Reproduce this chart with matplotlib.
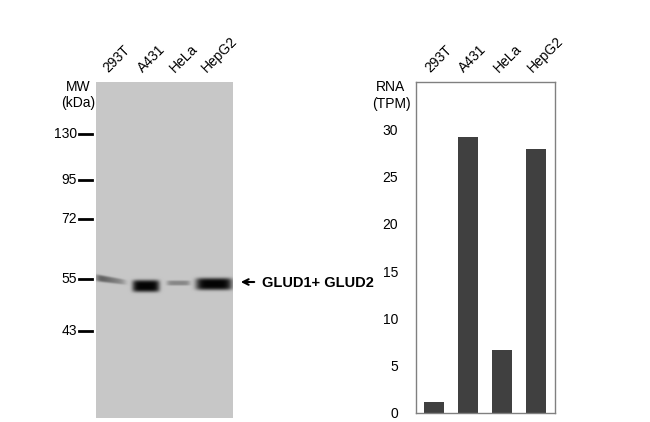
import numpy as np
import matplotlib.pyplot as plt
import matplotlib.transforms as mtransforms

plt.rcParams['font.family'] = ['Liberation Sans', 'DejaVu Sans']

# data
lanes = ['293T', 'A431', 'HeLa', 'HepG2']
band_darkness = [0.6, 0.98, 0.32, 0.98]
rna_tpm = [1.2, 29.2, 6.7, 27.9]
mw_labels = ['130', '95', '72', '55', '43']
rna_ticks = [0, 5, 10, 15, 20, 25, 30]

# blot layout (pixel units inside the blot panel)
W, H = 137, 336
lane_x = [15, 50, 82.5, 118]
label_x = [12, 47, 79, 111]
band_halfw = [15, 13.5, 11.5, 18]
band_y = [198, 204, 201, 202]
band_halfh = [3.5, 6.0, 2.5, 6.0]
band_tilt = [0.15, 0, 0, 0]
band_taper = [0.6, 0, 0, 0]
mw_y = [52, 98, 137, 197, 249]

fig = plt.figure(figsize=(6.5, 4.22), dpi=100)

# western blot
ax = fig.add_axes([96 / 650, 4 / 422, W / 650, H / 422])
xx, yy = np.meshgrid(np.arange(W * 2) / 2 + 0.25, np.arange(H * 2) / 2 + 0.25)
bg = 0.78
img = np.full(xx.shape, bg)
for cx, hw, cy, hh, tilt, taper, d in zip(lane_x, band_halfw, band_y, band_halfh,
                                          band_tilt, band_taper, band_darkness):
    dx = (xx - cx) / hw
    fade = np.clip(1 - taper * (np.clip(dx, -1, 1) + 1) / 2, 0, 1)
    dy = (yy - (cy + tilt * (xx - cx))) / (hh * (0.6 + 0.4 * fade))
    prof = np.exp(-dx ** 6) * np.exp(-dy ** 4) * fade
    img -= bg * d * prof
img = np.clip(img, 0, 1)
ax.imshow(img, cmap='gray', vmin=0, vmax=1, extent=(0, W, H, 0),
          aspect='auto', interpolation='bilinear')
ax.set_xlim(0, W)
ax.set_ylim(H, 0)
ax.axis('off')

for lab, y in zip(mw_labels, mw_y):
    ax.plot([-17, -4], [y, y], color='black', lw=2, clip_on=False)
    ax.text(-19, y, lab, ha='right', va='center', fontsize=10)
ax.text(-18, 13, 'MW\n(kDa)', ha='center', va='center', fontsize=10,
        multialignment='center')

for name, x in zip(lanes, label_x):
    ax.text(x, -9, name, rotation=45, rotation_mode='anchor',
            ha='left', va='baseline', fontsize=10)

ax.annotate('', xy=(142, 200), xytext=(161, 200), annotation_clip=False,
            arrowprops=dict(arrowstyle='->', lw=1.5, color='black'))
ax.text(166, 201, 'GLUD1+ GLUD2', fontsize=10.5, fontweight='bold',
        ha='left', va='center')

# RNA bar chart
bx = fig.add_axes([416 / 650, 9 / 422, 139 / 650, 331 / 422])
pos = np.arange(len(lanes))
bx.bar(pos, rna_tpm, width=0.58, color='#404040')
bx.set_xlim(-0.52, 3.56)
bx.set_ylim(0, 35)
bx.set_yticks(rna_ticks)
bx.set_xticks([])
bx.tick_params(axis='y', length=0, pad=13, labelsize=10)
for s in bx.spines.values():
    s.set_color('#808080')
    s.set_linewidth(1)

trans = mtransforms.blended_transform_factory(bx.transData, bx.transAxes)
for name, p in zip(lanes, pos):
    bx.text(p - 0.1, 1.027, name, transform=trans, rotation=45,
            rotation_mode='anchor', ha='left', va='baseline', fontsize=10)
bx.text(-0.18, 0.959, 'RNA\n(TPM)', transform=bx.transAxes, ha='center',
        va='center', fontsize=10, multialignment='center')

fig.savefig('out.png', dpi=100)
